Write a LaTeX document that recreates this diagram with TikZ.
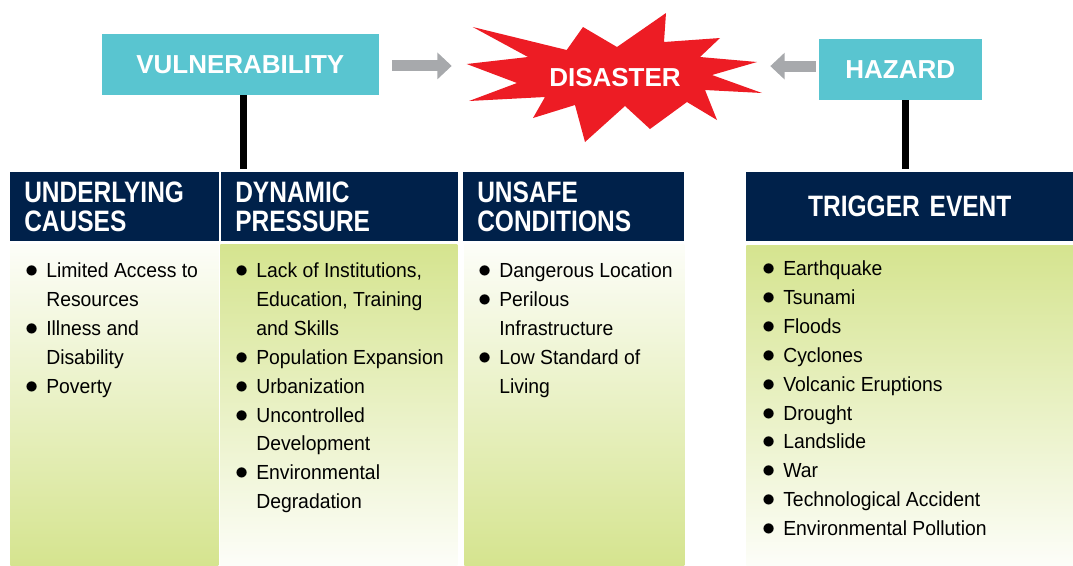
\documentclass[tikz,border=0pt]{standalone}
\usepackage{graphicx}
\usepackage{fontspec}
\setmainfont{Liberation Sans}
\newfontfamily\headfont[FakeStretch=0.83]{Liberation Sans}
\newfontfamily\listfont[FakeStretch=0.95]{Liberation Sans}
\usetikzlibrary{arrows.meta,positioning}
\definecolor{cyanbox}{RGB}{89,197,208}
\definecolor{navybox}{RGB}{0,33,74}
\definecolor{palegreen}{RGB}{213,228,143}
\definecolor{burstred}{RGB}{237,28,36}
\definecolor{grayarrow}{RGB}{167,169,172}
\newcommand{\bul}{\makebox[5mm][l]{\hspace*{-0.3mm}\scalebox{1.3}{$\bullet$}}}
\newcommand{\cont}{\hspace*{5mm}}

\begin{document}
\begin{tikzpicture}[x=0.25mm,y=-0.25mm,
title/.style={fill=cyanbox,text=white,font=\bfseries\fontsize{18.5}{22}\selectfont,minimum height=15.25mm,inner sep=0pt},
head/.style={fill=navybox,text=white,font=\headfont\bfseries\fontsize{21}{20.6}\selectfont,minimum height=17.25mm,inner xsep=3.5mm,inner ysep=0pt,anchor=north west,align=left},
body/.style={anchor=north west,minimum height=80.25mm,inner sep=0pt},
list/.style={anchor=north west,align=left,inner sep=0pt,font=\listfont\fontsize{14.5}{20.55}\selectfont},
link/.style={line width=1.75mm},
grayarr/.style={draw=grayarrow,line width=2.75mm,-{Triangle[length=3.6mm,width=6.5mm]}}]
\useasboundingbox (0,0) rectangle (1073,565);
\fill[burstred] (466.7,64) -- (528,57) -- (472.7,27) -- (566.7,50) -- (583,27) -- (617,47) -- (666,13) -- (664,42) -- (720,38) -- (700,57) -- (757,62) -- (712,75) -- (762,93) -- (705,90) -- (717,120) -- (687,102) -- (650,129) -- (625,106) -- (585,142) -- (575,105) -- (533,118) -- (545,97) -- (469,101) -- (517,83) -- cycle;
\node[title,minimum width=69.25mm] (vul) at (240.3,64.3) {VULNERABILITY};
\node[title,minimum width=40.75mm] (haz) at (900.3,69.3) {HAZARD};
\node[text=white,font=\bfseries\fontsize{18.5}{22}\selectfont,minimum width=74mm,inner sep=0pt] (dis) at (615,77.5) {DISASTER};
\draw[grayarr,shorten <=3.25mm,shorten >=3.75mm] ([yshift=-0.4mm]vul.east) -- ([yshift=-0.4mm]vul.east -| dis.west);
\draw[grayarr,shorten <=0.75mm,shorten >=1.75mm] ([yshift=0.8mm]haz.west) -- ([yshift=0.8mm]haz.west -| dis.east);
\node[head,text width=45.25mm] (h1) at (10,172) {UNDERLYING\\CAUSES};
\node[head,text width=52.25mm] (h2) at (221,172) {DYNAMIC\\PRESSURE};
\node[head,text width=48.125mm] (h3) at (463,172) {UNSAFE\\CONDITIONS};
\node[head,text width=74.75mm,align=center] (h4) at (746,172) {TRIGGER EVENT};
\draw[link,shorten >=0.75mm] ([xshift=0.75mm]vul.south) -- ([xshift=0.75mm]vul.south |- h2.north);
\draw[link,shorten >=0.75mm] ([xshift=1.35mm]haz.south) -- ([xshift=1.35mm]haz.south |- h4.north);
\node[body,minimum width=52mm,top color=palegreen!6!white,bottom color=palegreen] (b1) at (10,244) {};
\node[body,minimum width=59.25mm,top color=palegreen,bottom color=palegreen!6!white] (b2) at (220,244) {};
\node[body,minimum width=55mm,top color=palegreen!6!white,bottom color=palegreen] (b3) at (464,244) {};
\node[body,minimum width=81.75mm,minimum height=80mm,top color=palegreen,bottom color=palegreen!6!white] (b4) at (746,245) {};
\node[list] (l1) at (26,262.5) {\bul Limited Access to\\\cont Resources\\\bul Illness and\\\cont Disability\\\bul Poverty};
\node[list] (l2) at (236,262.5) {\bul Lack of Institutions,\\\cont Education, Training\\\cont and Skills\\\bul Population Expansion\\\bul Urbanization\\\bul Uncontrolled\\\cont Development\\\bul Environmental\\\cont Degradation};
\node[list] (l3) at (479,262.5) {\bul Dangerous Location\\\bul Perilous\\\cont Infrastructure\\\bul Low Standard of\\\cont Living};
\node[list] (l4) at (763,260.5) {\bul Earthquake\\\bul Tsunami\\\bul Floods\\\bul Cyclones\\\bul Volcanic Eruptions\\\bul Drought\\\bul Landslide\\\bul War\\\bul Technological Accident\\\bul Environmental Pollution};
\end{tikzpicture}
\end{document}
